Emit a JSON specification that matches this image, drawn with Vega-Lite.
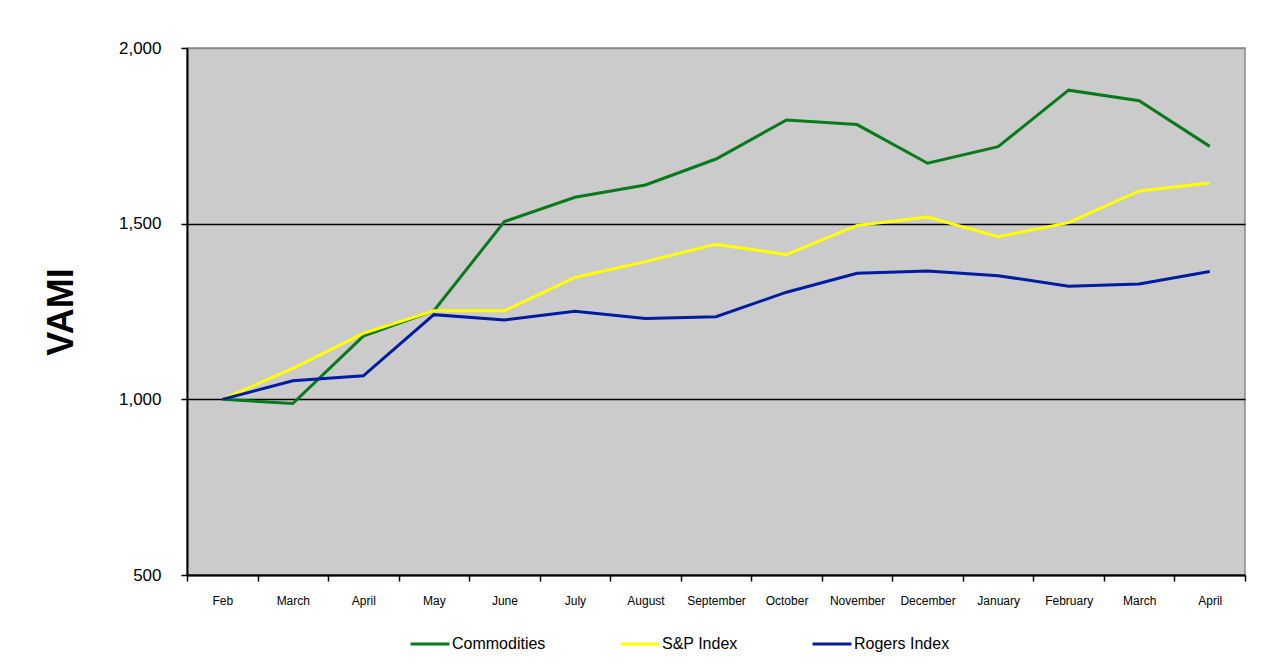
{
  "$schema": "https://vega.github.io/schema/vega-lite/v6.json",
  "autosize": {"type": "none"},
  "width": 1058,
  "height": 527,
  "padding": {"left": 187, "top": 48, "right": 21, "bottom": 96},
  "background": "white",
  "config": {
    "font": "Liberation Sans",
    "view": {"fill": "#cbcbcb", "stroke": "#8a8a8a", "strokeWidth": 1.5}
  },
  "data": {
    "values": [
      {"period": "2006-02", "series": "Commodities", "value": 1000},
      {"period": "2006-03", "series": "Commodities", "value": 988},
      {"period": "2006-04", "series": "Commodities", "value": 1180},
      {"period": "2006-05", "series": "Commodities", "value": 1252},
      {"period": "2006-06", "series": "Commodities", "value": 1506},
      {"period": "2006-07", "series": "Commodities", "value": 1575},
      {"period": "2006-08", "series": "Commodities", "value": 1610},
      {"period": "2006-09", "series": "Commodities", "value": 1684},
      {"period": "2006-10", "series": "Commodities", "value": 1795},
      {"period": "2006-11", "series": "Commodities", "value": 1782},
      {"period": "2006-12", "series": "Commodities", "value": 1672},
      {"period": "2007-01", "series": "Commodities", "value": 1719},
      {"period": "2007-02", "series": "Commodities", "value": 1880},
      {"period": "2007-03", "series": "Commodities", "value": 1850},
      {"period": "2007-04", "series": "Commodities", "value": 1720},
      {"period": "2006-02", "series": "S&P Index", "value": 1000},
      {"period": "2006-03", "series": "S&P Index", "value": 1088},
      {"period": "2006-04", "series": "S&P Index", "value": 1188},
      {"period": "2006-05", "series": "S&P Index", "value": 1252},
      {"period": "2006-06", "series": "S&P Index", "value": 1252},
      {"period": "2006-07", "series": "S&P Index", "value": 1347},
      {"period": "2006-08", "series": "S&P Index", "value": 1392},
      {"period": "2006-09", "series": "S&P Index", "value": 1441},
      {"period": "2006-10", "series": "S&P Index", "value": 1412},
      {"period": "2006-11", "series": "S&P Index", "value": 1495},
      {"period": "2006-12", "series": "S&P Index", "value": 1519},
      {"period": "2007-01", "series": "S&P Index", "value": 1463},
      {"period": "2007-02", "series": "S&P Index", "value": 1503},
      {"period": "2007-03", "series": "S&P Index", "value": 1593},
      {"period": "2007-04", "series": "S&P Index", "value": 1616},
      {"period": "2006-02", "series": "Rogers Index", "value": 1000},
      {"period": "2006-03", "series": "Rogers Index", "value": 1053},
      {"period": "2006-04", "series": "Rogers Index", "value": 1067},
      {"period": "2006-05", "series": "Rogers Index", "value": 1241},
      {"period": "2006-06", "series": "Rogers Index", "value": 1226},
      {"period": "2006-07", "series": "Rogers Index", "value": 1251},
      {"period": "2006-08", "series": "Rogers Index", "value": 1230},
      {"period": "2006-09", "series": "Rogers Index", "value": 1235},
      {"period": "2006-10", "series": "Rogers Index", "value": 1305},
      {"period": "2006-11", "series": "Rogers Index", "value": 1359},
      {"period": "2006-12", "series": "Rogers Index", "value": 1365},
      {"period": "2007-01", "series": "Rogers Index", "value": 1352},
      {"period": "2007-02", "series": "Rogers Index", "value": 1322},
      {"period": "2007-03", "series": "Rogers Index", "value": 1328},
      {"period": "2007-04", "series": "Rogers Index", "value": 1364}
    ]
  },
  "mark": {"type": "line", "strokeWidth": 3, "interpolate": "linear"},
  "encoding": {
    "x": {
      "field": "period",
      "type": "ordinal",
      "bandPosition": 0.5,
      "scale": {"type": "band", "paddingInner": 0, "paddingOuter": 0},
      "axis": {
        "title": null,
        "labelExpr": "!isString(datum.value) || length(datum.value) !== 7 ? '' : (datum.value === '2006-02' ? 'Feb' : utcFormat(toDate(datum.value + '-15'), '%B'))",
        "labelAngle": 0,
        "labelFont": "Liberation Sans",
        "labelFontSize": 12,
        "labelColor": "black",
        "labelPadding": 14,
        "tickBand": "extent",
        "tickSize": 6,
        "tickColor": "black",
        "tickWidth": 1.5,
        "domainColor": "black",
        "domainWidth": 2,
        "grid": false
      }
    },
    "y": {
      "field": "value",
      "type": "quantitative",
      "scale": {"domain": [500, 2000], "nice": false, "zero": false},
      "axis": {
        "title": "VAMI",
        "titleFont": "Liberation Sans",
        "titleFontSize": 36,
        "titleFontWeight": "bold",
        "titleColor": "black",
        "titleAngle": 270,
        "titleAlign": "center",
        "titleBaseline": "alphabetic",
        "titleX": -115,
        "titleY": 263.5,
        "values": [500, 1000, 1500, 2000],
        "format": ",.0f",
        "labelFont": "Liberation Sans",
        "labelFontSize": 17,
        "labelColor": "black",
        "labelPadding": 20,
        "tickSize": 6,
        "tickColor": "black",
        "tickWidth": 1.5,
        "domainColor": "black",
        "domainWidth": 2,
        "grid": true,
        "gridColor": {"condition": {"test": "datum.value === 2000", "value": "#8a8a8a"}, "value": "black"},
        "gridWidth": 1.5,
        "gridOpacity": 1
      }
    },
    "color": {
      "field": "series",
      "type": "nominal",
      "scale": {
        "domain": ["Commodities", "S&P Index", "Rogers Index"],
        "range": ["#087a1c", "#ffff00", "#001ca0"]
      },
      "legend": {
        "title": null,
        "orient": "none",
        "direction": "horizontal",
        "legendX": 222,
        "legendY": 575,
        "symbolType": "stroke",
        "symbolSize": 1521,
        "symbolStrokeWidth": 3,
        "labelFont": "Liberation Sans",
        "labelFontSize": 16,
        "labelColor": "black",
        "labelOffset": 1,
        "columnPadding": 68,
        "padding": 0
      }
    }
  }
}
